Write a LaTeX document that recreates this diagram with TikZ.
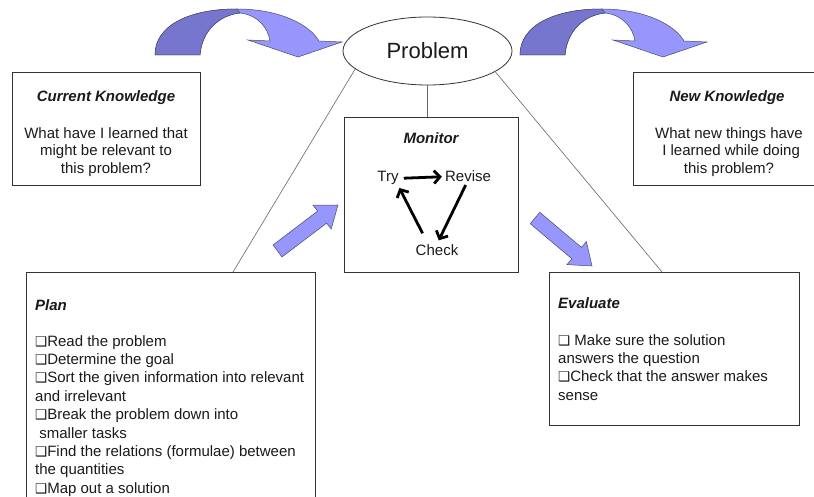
\documentclass[tikz,border=0pt]{standalone}
\usepackage{fontspec}
\setmainfont{Liberation Sans}
\newfontfamily\djv{DejaVu Sans}
\usetikzlibrary{arrows.meta,shapes.geometric}
\definecolor{txt}{HTML}{1A1A1A}
\definecolor{boxline}{HTML}{333333}
\definecolor{connc}{HTML}{666666}
\definecolor{blueL}{RGB}{150,150,252}
\definecolor{blueD}{RGB}{118,118,206}
\definecolor{outl}{HTML}{4A4A6A}
\newcommand\cb{{\djv\fontsize{13.5}{13.5}\selectfont\char"2751}}
\begin{document}
\begin{tikzpicture}[x=1pt,y=-1pt,
  box/.style={draw=boxline,line width=0.9pt,rectangle,inner sep=0pt,outer sep=0pt,anchor=north west},
  ttl/.style={font=\fontsize{15}{18}\selectfont\bfseries\itshape,text=txt,inner sep=0pt},
  body/.style={font=\fontsize{15}{18.4}\selectfont,text=txt,inner sep=0pt},
  ckbody/.style={font=\fontsize{15}{17.5}\selectfont,text=txt,inner sep=0pt,align=center,anchor=north},
  connline/.style={draw=connc,line width=0.6pt},
  loopar/.style={draw=black,line width=2.8pt,-{Straight Barb[length=6pt,width=13pt]}},
  blk/.style={draw=outl,line width=0.5pt,fill=blueL},
  blkdark/.style={draw=outl,line width=0.5pt,fill=blueD}]
\useasboundingbox (0,0) rectangle (814,497);
\fill[white] (0,0) rectangle (814,497);

% curved arrows
\foreach \dx in {0,365}{
\begin{scope}[shift={(\dx,0)}]
\path[blk] (155,55) .. controls (155,25) and (190,9) .. (237,9)
  .. controls (280,9) and (310,25) .. (319,41) -- (342,42) -- (298,57) -- (248,40) -- (270,41)
  .. controls (268,28) and (258,15) .. (240,13)
  .. controls (220,15) and (202,30) .. (200,55) -- cycle;
\path[blkdark] (155,55) .. controls (155,25) and (190,9) .. (237,9) -- (240,13)
  .. controls (220,15) and (202,30) .. (200,55) -- cycle;
\end{scope}}

% straight block arrows
\path[blk] (282.0,257.0) -- (273.0,245.0) -- (317.6,211.1) -- (313.0,205.2) -- (338,205)
  -- (331.2,229.0) -- (326.6,223.1) -- cycle;
\path[blk] (530.2,223.7) -- (539.8,212.3) -- (581.5,247.4) -- (586.4,241.6) -- (592,266)
  -- (567.0,264.6) -- (571.9,258.8) -- cycle;

% problem
\node[draw=boxline,line width=0.8pt,ellipse,minimum width=169,minimum height=68,inner sep=0pt,
  font=\fontsize{22}{22}\selectfont,text=txt] (prob) at (427.5,51) {Problem};

% boxes
\node[box,minimum width=188,minimum height=113] (ck) at (12,72) {};
\node[box,minimum width=188,minimum height=113] (nk) at (633,72) {};
\node[box,minimum width=174,minimum height=155] (mon) at (344,117) {};
\node[box,minimum width=289,minimum height=250] (plan) at (26,272) {};
\node[box,minimum width=250,minimum height=153] (eval) at (549,272) {};

% connectors
\coordinate (planTop) at (233,272);
\coordinate (evalTop) at (662,272);
\draw[connline] (prob.194) -- (planTop);
\draw[connline] (prob.-17) -- (evalTop);
\draw[connline] (prob.south) -- (prob.south |- mon.north);

% current knowledge
\node[ttl,anchor=base] (ckT) at (106,102) {Current Knowledge};
\node[ckbody] (ckB) at (106,127) {What have I learned that\\might be relevant to\\this problem?};

% new knowledge
\node[ttl,anchor=base] (nkT) at (727,102) {New Knowledge};
\node[ckbody] (nkB) at (729,127) {What new things have\\\ I learned while doing\\this problem?};

% monitor
\node[ttl,anchor=base] (monT) at (431,144) {Monitor};
\node[body,anchor=base] (try) at (388,182) {Try};
\node[body,anchor=base] (rev) at (468,182) {Revise};
\node[body,anchor=base] (chk) at (437,255) {Check};
\draw[loopar,shorten <=5pt,shorten >=3pt] (try.east) -- (rev.west);
\draw[loopar,shorten <=3pt,shorten >=4pt] ([xshift=-1pt]rev.south) -- (chk.north);
\draw[loopar,shorten <=12pt,shorten >=3pt] ([xshift=-9pt]chk.north) -- ([xshift=10pt]try.south);

% plan
\node[ttl,anchor=base west] (planT) at (35,310) {Plan};
\node[body,align=left,anchor=north west] (planB) at (35,335) {\cb Read the problem\\
\cb Determine the goal\\
\cb Sort the given information into relevant\\
and irrelevant\\
\cb Break the problem down into\\
\ smaller tasks\\
\cb Find the relations (formulae) between\\
the quantities\\
\cb Map out a solution};

% evaluate
\node[ttl,anchor=base west] (evT) at (558,308) {Evaluate};
\node[body,align=left,anchor=north west] (evB) at (558,334) {\cb\ Make sure the solution\\
answers the question\\
\cb Check that the answer makes\\
sense};
\end{tikzpicture}
\end{document}
